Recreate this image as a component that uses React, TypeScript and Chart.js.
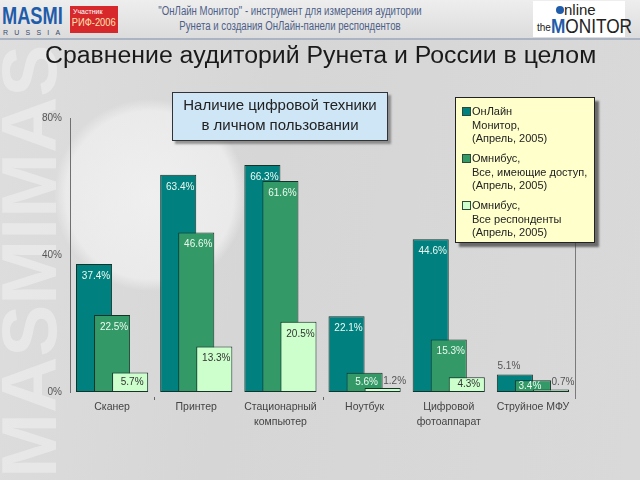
import React, { useEffect, useRef } from "react";
import { Chart, registerables } from "chart.js";

Chart.register(...registerables);

const categories: string[][] = [
  ["Сканер"],
  ["Принтер"],
  ["Стационарный", "компьютер"],
  ["Ноутбук"],
  ["Цифровой", "фотоаппарат"],
  ["Струйное МФУ"],
];
const onlineMonitor = [37.4, 63.4, 66.3, 22.1, 44.6, 5.1];
const omnibusAccess = [22.5, 46.6, 61.6, 5.6, 15.3, 3.4];
const omnibusAll = [5.7, 13.3, 20.5, 1.2, 4.3, 0.7];
const seriesLabels: string[][] = [
  ["ОнЛайн", "Монитор,", "(Апрель, 2005)"],
  ["Омнибус,", "Все, имеющие доступ,", "(Апрель, 2005)"],
  ["Омнибус,", "Все респонденты", "(Апрель, 2005)"],
];
const seriesColors = ["#00807f", "#339966", "#ccffcc"];
const yTicks = [0, 40, 80];
const titleText = "Сравнение аудиторий Рунета и России в целом";
const noteLines = ["Наличие цифровой техники", "в личном пользовании"];
const headerLines = ["\"ОнЛайн Монитор\" - инструмент для измерения аудитории", "Рунета и создания ОнЛайн-панели респондентов"];

const FONT = "'Liberation Sans', Arial, sans-serif";

function drawLabels(chart: any) {
  const ctx = chart.ctx;
  ctx.save();
  ctx.font = `10px ${FONT}`;
  ctx.textAlign = "center";
  ctx.textBaseline = "middle";
  chart.data.datasets.forEach((ds: any, di: number) => {
    const meta = chart.getDatasetMeta(di);
    meta.data.forEach((el: any, i: number) => {
      const v = ds.data[i];
      const p = el.getProps(["x", "y", "base", "width"], true);
      const h = p.base - p.y;
      const txt = v.toFixed(1) + "%";
      let x = p.x + 2;
      let y = h < 26 ? (p.y + p.base) / 2 : p.y + 12;
      let color = di === 2 ? "#333333" : "#eefaf2";
      if (di === 0 && v < 10) {
        x = p.x - 6;
        y = p.y - 8;
        color = "#555555";
      } else if (di === 2 && v < 2) {
        x = p.x + 12;
        y = p.y - 7;
        color = "#555555";
      } else if (h < 14) {
        x = p.x - 3;
      }
      ctx.fillStyle = color;
      ctx.fillText(txt, x, y);
    });
  });
  const a = chart.chartArea;
  ctx.strokeStyle = "#7a7a7a";
  ctx.lineWidth = 1;
  ctx.beginPath();
  ctx.moveTo(Math.round(a.right) + 0.5, a.top);
  ctx.lineTo(Math.round(a.right) + 0.5, a.bottom + 7);
  ctx.stroke();
  const xs = chart.scales.x;
  ctx.strokeStyle = "#666";
  [1, 3].forEach((k) => {
    const bx = Math.round((xs.getPixelForTick(k - 1) + xs.getPixelForTick(k)) / 2) + 0.5;
    ctx.beginPath();
    ctx.moveTo(bx, a.bottom + 5);
    ctx.lineTo(bx, a.bottom + 8);
    ctx.stroke();
  });
  ctx.restore();
}

// draw series in index order so each later series overlaps the previous one
const overlapPlugin = {
  id: "overlapOrder",
  beforeDatasetsDraw(chart: any) {
    for (let i = 0; i < chart.data.datasets.length; i++) {
      const meta = chart.getDatasetMeta(i);
      if (!meta.hidden) meta.controller.draw();
    }
    drawLabels(chart);
    return false;
  },
};

function BarChart() {
  const ref = useRef<HTMLCanvasElement>(null);
  useEffect(() => {
    if (!ref.current) return;
    const data = [onlineMonitor, omnibusAccess, omnibusAll];
    const chart = new Chart(ref.current, {
      type: "bar",
      data: {
        labels: categories,
        datasets: data.map((d, i) => ({
          label: seriesLabels[i].join(" "),
          data: d,
          backgroundColor: seriesColors[i],
          borderColor: "#173229",
          borderWidth: 1,
          borderSkipped: false,
          barPercentage: 2,
          categoryPercentage: 0.643,
        })),
      },
      options: {
        animation: false,
        responsive: false,
        maintainAspectRatio: false,
        layout: { padding: { top: 118, right: 65, left: 0, bottom: 0 } },
        plugins: { legend: { display: false }, tooltip: { enabled: false }, title: { display: false } },
        scales: {
          x: {
            grid: { display: false, drawTicks: false },
            border: { display: false },
            ticks: {
              padding: 8,
              color: "#444444",
              font: { family: FONT, size: 10.5, lineHeight: 1.43 },
              maxRotation: 0,
              autoSkip: false,
            },
            afterFit(scale: any) {
              scale.height = 88;
            },
          },
          y: {
            min: 0,
            max: 80,
            afterBuildTicks(scale: any) {
              scale.ticks = yTicks.map((v) => ({ value: v }));
            },
            grid: { display: false, drawTicks: false },
            border: { display: true, color: "#707070", width: 1 },
            ticks: {
              padding: 8,
              color: "#555555",
              font: { family: FONT, size: 10 },
              callback: (v: any) => v + "%",
            },
            afterFit(scale: any) {
              scale.width = 70;
            },
          },
        },
      },
      plugins: [overlapPlugin],
    });
    return () => chart.destroy();
  }, []);
  return <canvas ref={ref} width={640} height={480} style={{ position: "absolute", left: 0, top: 0, width: 640, height: 480 }} />;
}

export default function App() {
  const abs = (s: React.CSSProperties): React.CSSProperties => ({ position: "absolute", ...s });
  return (
    <div
      style={{
        position: "fixed",
        left: 0,
        top: 0,
        width: 640,
        height: 480,
        overflow: "hidden",
        fontFamily: FONT,
        background:
          "radial-gradient(circle at 150px 195px, rgba(240,240,240,0.95) 0px, rgba(236,236,236,0.9) 84px, rgba(217,217,217,0) 96px), linear-gradient(100deg, #dedede 0%, #d6d6d6 40%, #d9d9d9 100%)",
      }}
    >
      <div
        style={abs({
          left: -10,
          top: 478,
          transformOrigin: "top left",
          transform: "rotate(-90deg)",
          fontSize: 78,
          lineHeight: "78px",
          fontWeight: 700,
          color: "rgba(236,236,236,0.7)",
          whiteSpace: "nowrap",
          fontFamily: FONT,
        })}
      >
        MASMIMASMI
      </div>

      <BarChart />

      <div style={abs({ left: 0, top: 0, width: 640, height: 38, background: "linear-gradient(180deg,#eeeeee,#dcdcdc)", borderBottom: "2px solid #aab4c2" })} />
      <div style={abs({ left: 2, top: 2, fontSize: 24, fontWeight: 700, color: "#1f5caa", transform: "scaleX(0.76)", transformOrigin: "left top", lineHeight: "27px" })}>
        MASMI
      </div>
      <div style={abs({ left: 3, top: 28, fontSize: 7, color: "#3a4a6a", letterSpacing: 6.2, lineHeight: "9px" })}>RUSSIA</div>
      <div style={abs({ left: 70, top: 6, width: 48, height: 27, background: "#d7282c", color: "#fff" })}>
        <div style={{ fontSize: 7, lineHeight: "9px", paddingLeft: 3, paddingTop: 1 }}>Участник</div>
        <div style={{ fontSize: 11, lineHeight: "13px", paddingLeft: 2, color: "#ffe4b0", transform: "scaleX(0.85)", transformOrigin: "left" }}>РИФ-2006</div>
      </div>
      <div style={abs({ left: 90, top: 4, width: 400, textAlign: "center", fontSize: 12.5, lineHeight: "15px", color: "#4d5f88", whiteSpace: "nowrap", transform: "scaleX(0.77)" })}>
        <div>{headerLines[0]}</div>
        <div>{headerLines[1]}</div>
      </div>
      <div style={abs({ left: 533, top: 1, width: 92, height: 36, background: "#ffffff" })}>
        <div style={abs({ left: 23, top: 5, width: 8, height: 8, borderRadius: 4, background: "#1f5caa" })} />
        <div style={abs({ left: 31, top: 0, fontSize: 15, lineHeight: "17px", color: "#222" })}>nline</div>
        <div style={abs({ left: 4, top: 21, fontSize: 10, lineHeight: "12px", color: "#222" })}>the</div>
        <div style={abs({ left: 18, top: 14, fontSize: 21, lineHeight: "22px", color: "#222", transform: "scaleX(0.82)", transformOrigin: "left" })}>
          <span style={{ color: "#1f5caa", fontWeight: 700 }}>M</span>ONITOR
        </div>
      </div>

      <div style={abs({ left: 45, top: 41, fontSize: 23, lineHeight: "28px", color: "#1a1a1a", whiteSpace: "nowrap", transform: "scaleX(1.08)", transformOrigin: "left" })}>{titleText}</div>

      <div
        style={abs({
          left: 172,
          top: 92,
          width: 214,
          height: 45,
          background: "#cfe6f7",
          border: "1px solid #333",
          boxShadow: "3px 3px 2px rgba(90,90,90,0.6)",
          textAlign: "center",
          fontSize: 15,
          lineHeight: "20px",
          color: "#222",
          paddingTop: 2,
          boxSizing: "content-box",
        })}
      >
        <div>{noteLines[0]}</div>
        <div>{noteLines[1]}</div>
      </div>

      <div
        style={abs({
          left: 455,
          top: 97,
          width: 138,
          height: 144,
          background: "#ffffcc",
          border: "1px solid #222",
          boxShadow: "4px 4px 2px rgba(60,60,60,0.7)",
        })}
      >
        {seriesLabels.map((lines, i) => (
          <div key={i} style={abs({ left: 6, top: 6 + i * 47 })}>
            <div style={abs({ left: 0, top: 3, width: 7, height: 7, background: seriesColors[i], border: "1px solid #2a4a3a" })} />
            {lines.map((t, j) => (
              <div key={j} style={abs({ left: 10, top: j * 13.7, fontSize: 11, lineHeight: "14px", color: "#222", whiteSpace: "nowrap" })}>
                {t}
              </div>
            ))}
          </div>
        ))}
      </div>
    </div>
  );
}
